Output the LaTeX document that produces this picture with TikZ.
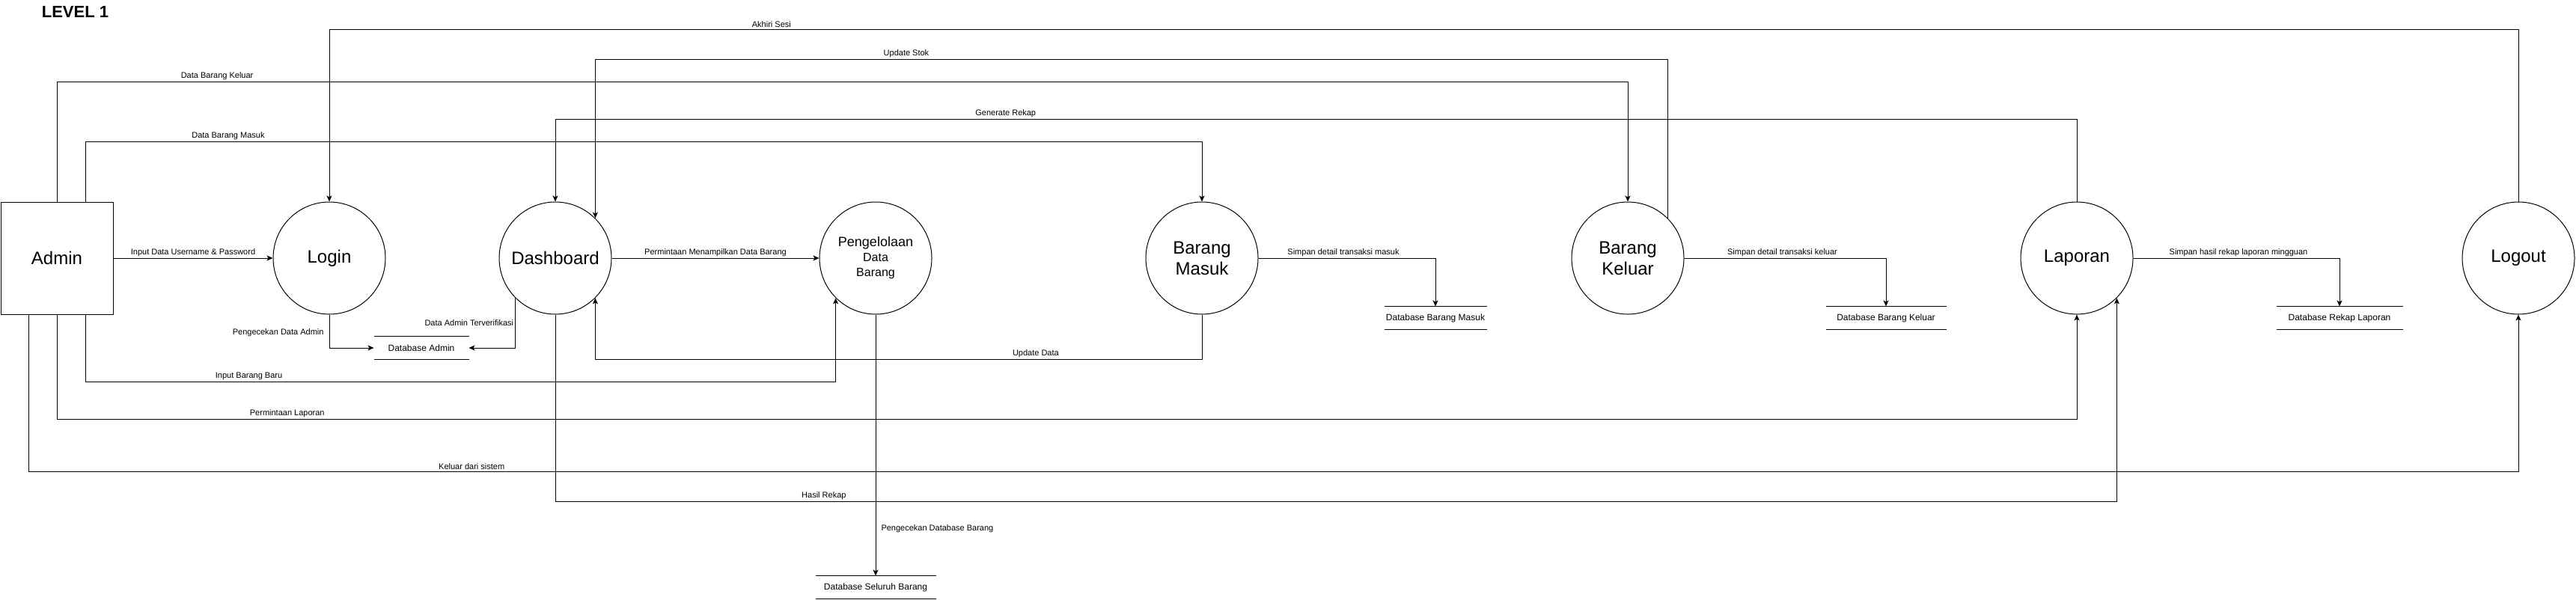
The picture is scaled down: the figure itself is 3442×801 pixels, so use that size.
\documentclass[tikz,border=0pt]{standalone}
\usepackage{fontspec}
\setmainfont{Liberation Sans}
\usetikzlibrary{arrows.meta}

\begin{document}
\begin{tikzpicture}[x=1pt, y=-1pt, line width=1pt,
  proc/.style={circle, draw, minimum size=150pt, inner sep=0pt, align=center, font=\fontsize{24}{28}\selectfont},
  ent/.style={rectangle, draw, minimum width=150pt, minimum height=150pt, font=\fontsize{24}{28}\selectfont},
  store/.style={minimum height=30pt, inner sep=0pt, font=\fontsize{12}{14}\selectfont},
  flow/.style={-{Stealth[length=8pt, width=7pt, inset=2pt]}},
  lbl/.style={font=\fontsize{11}{13}\selectfont, inner sep=1pt}]
  \useasboundingbox (0,0) rectangle (3442,801);
  \node[anchor=west, font=\fontsize{22}{26}\selectfont\bfseries] (title) at (52,16) {LEVEL 1};
  % Entity and processes
  \node[ent] (admin) at (76,345) {Admin};
  \node[proc] (login) at (440,345) {Login};
  \node[proc] (dash) at (742,345) {Dashboard};
  \node[proc, font=\fontsize{16}{20}\selectfont] (kelola) at (1170,345) {{\fontsize{18}{20}\selectfont Pengelolaan}\\Data\\Barang};
  \node[proc] (masuk) at (1606,345) {Barang\\Masuk};
  \node[proc] (keluar) at (2175,345) {Barang\\Keluar};
  \node[proc] (laporan) at (2775,345) {Laporan};
  \node[proc] (logout) at (3365,345) {Logout};
  % Data stores (open at the sides)
  \node[store, minimum width=126pt] (dbadmin) at (563,465) {Database Admin};
  \node[store, minimum width=136pt] (dbmasuk) at (1918,425) {Database Barang Masuk};
  \node[store, minimum width=160pt] (dbkeluar) at (2520,425) {Database Barang Keluar};
  \node[store, minimum width=168pt] (dbrekap) at (3126,425) {Database Rekap Laporan};
  \node[store, minimum width=160pt] (dbseluruh) at (1170,785) {Database Seluruh Barang};
  \foreach \s in {dbadmin,dbmasuk,dbkeluar,dbrekap,dbseluruh}
    \draw (\s.north west) -- (\s.north east) (\s.south west) -- (\s.south east);
  % Flows from Admin
  \draw[flow] (admin.east) -- node[lbl, above=1pt] (t1) {Input Data Username \& Password} (login.west);
  \draw[flow] (admin.north) -- ++(0,-160) -| node[lbl, pos=0.051, above=1pt] (t2) {Data Barang Keluar} (keluar.north);
  \draw[flow] ([xshift=38pt]admin.north) -- ++(0,-80) -| node[lbl, pos=0.064, above=1pt] (t3) {Data Barang Masuk} (masuk.north);
  \draw[flow] ([xshift=38pt]admin.south) -- ++(0,90) -| node[lbl, pos=0.109, above=1pt] (t4) {Input Barang Baru} (kelola.south west);
  \draw[flow] (admin.south) -- ++(0,140) -| node[lbl, pos=0.057, above=1pt] (t5) {Permintaan Laporan} (laporan.south);
  \draw[flow] ([xshift=-38pt]admin.south) -- ++(0,210) -| node[lbl, pos=0.089, above=1pt] (t6) {Keluar dari sistem} (logout.south);
  % Login and Dashboard
  \draw[flow] (login.south) |- node[lbl, pos=0.27, left=6pt] (t7) {Pengecekan Data Admin} (dbadmin.west);
  \draw[flow] (dash.south west) |- node[lbl, pos=0.25, left=1pt] (t8) {Data Admin Terverifikasi} (dbadmin.east);
  \draw[flow] (dash.east) -- node[lbl, above=1pt] (t9) {Permintaan Menampilkan Data Barang} (kelola.west);
  \draw[flow] (kelola.south) -- node[lbl, pos=0.82, right=6pt] (t10) {Pengecekan Database Barang} (dbseluruh.north);
  \draw[flow] (dash.south) -- ++(0,250) -| node[lbl, pos=0.086, above=1pt] (t11) {Hasil Rekap} (laporan.south east);
  % Back flows over the top
  \draw[flow] (logout.north) -- ++(0,-230) -| node[lbl, pos=0.399, above=1pt] (t12) {Akhiri Sesi} (login.north);
  \draw[flow] (keluar.north east) -- ++(0,-212) -| node[lbl, pos=0.355, above=1pt] (t13) {Update Stok} (dash.north east);
  \draw[flow] (laporan.north) -- ++(0,-110) -| node[lbl, pos=0.352, above=1pt] (t14) {Generate Rekap} (dash.north);
  \draw[flow] (masuk.south) -- ++(0,60) -| node[lbl, pos=0.137, above=1pt] (t15) {Update Data} (dash.south east);
  % Saving to the stores
  \draw[flow] (masuk.east) -| node[lbl, pos=0.24, above=1pt] (t16) {Simpan detail transaksi masuk} (dbmasuk.north);
  \draw[flow] (keluar.east) -| node[lbl, pos=0.243, above=1pt] (t17) {Simpan detail transaksi keluar} (dbkeluar.north);
  \draw[flow] (laporan.east) -| node[lbl, pos=0.255, above=1pt] (t18) {Simpan hasil rekap laporan mingguan} (dbrekap.north);
\end{tikzpicture}
\end{document}
